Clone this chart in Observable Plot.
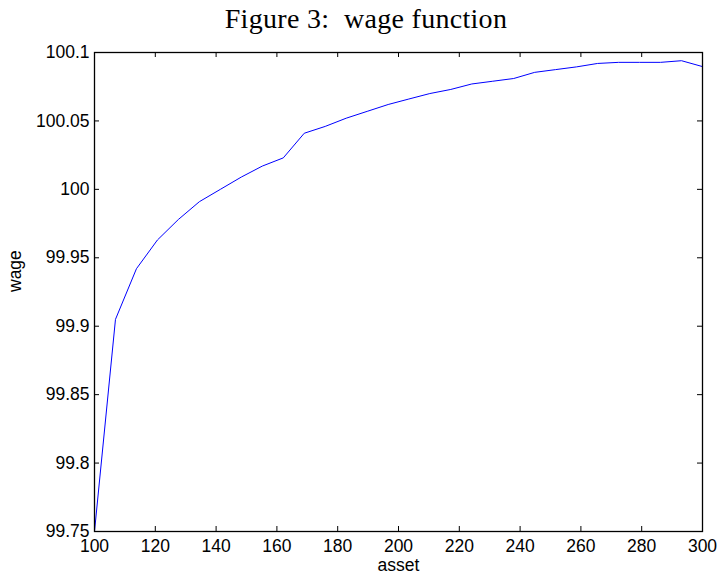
<!DOCTYPE html>
<html>
<head>
<meta charset="utf-8">
<script src="https://cdn.jsdelivr.net/npm/d3@7"></script>
<script src="https://cdn.jsdelivr.net/npm/@observablehq/plot@0.6"></script>
<style>
  html, body { margin: 0; padding: 0; background: #fff; }
  #wrap { width: 719px; height: 578px; position: relative; }
  #title {
    height: 38px; width: 719px; box-sizing: border-box; padding-left: 13px;
    text-align: center; font-family: "Liberation Serif", serif; font-size: 28px;
    line-height: 38px; color: #000; letter-spacing: 0.3px;
  }
  svg { display: block; }
</style>
</head>
<body>
<div id="wrap">
  <div id="title">Figure 3:&nbsp; wage function</div>
  <div id="chart"></div>
</div>
<script>
// Wage as a function of asset holdings
const assets = [100, 106.9, 113.8, 120.7, 127.6, 134.5, 141.4, 148.3, 155.2, 162.1,
                169.0, 175.9, 182.8, 189.7, 196.6, 203.4, 210.3, 217.2, 224.1, 231.0,
                237.9, 244.8, 251.7, 258.6, 265.5, 272.4, 279.3, 286.2, 293.1, 300];
const wages = [99.750, 99.905, 99.942, 99.963, 99.978, 99.991, 100.000, 100.009, 100.017, 100.023,
               100.041, 100.046, 100.052, 100.057, 100.062, 100.066, 100.070, 100.073, 100.077, 100.079,
               100.081, 100.0855, 100.0875, 100.0895, 100.092, 100.0928, 100.0928, 100.0928, 100.094, 100.0897];

const xTicks = [100, 120, 140, 160, 180, 200, 220, 240, 260, 280, 300];
const yTicks = [99.75, 99.8, 99.85, 99.9, 99.95, 100, 100.05, 100.1];
const yTickLabels = ["99.75", "99.8", "99.85", "99.9", "99.95", "100", "100.05", "100.1"];

const data = assets.map((a, i) => ({asset: a, wage: wages[i]}));

const W = 719, H = 540;
const mTop = 14, mBottom = 47, mLeft = 94, mRight = 17;
const innerH = H - mTop - mBottom, innerW = W - mLeft - mRight;
const tickLen = 5;

const chart = Plot.plot({
  width: W,
  height: H,
  marginTop: mTop,
  marginBottom: mBottom,
  marginLeft: mLeft,
  marginRight: mRight,
  style: {fontFamily: "'Liberation Sans', Arial, sans-serif", fontSize: "17.5px", color: "#000", background: "#fff"},
  x: {domain: [100, 300]},
  y: {domain: [99.75, 100.1]},
  marks: [
    Plot.axisX(xTicks, {anchor: "bottom", tickSize: 0, tickPadding: 8, label: null}),
    Plot.axisY(yTicks, {anchor: "left", tickSize: 0, tickPadding: 5, label: null,
                        tickFormat: d => yTickLabels[yTicks.indexOf(d)]}),
    // inward tick marks on all four sides
    Plot.tickX(xTicks, {x: d => d, insetTop: innerH - tickLen, stroke: "#000"}),
    Plot.tickX(xTicks, {x: d => d, insetBottom: innerH - tickLen, stroke: "#000"}),
    Plot.tickY(yTicks, {y: d => d, insetRight: innerW - tickLen, stroke: "#000"}),
    Plot.tickY(yTicks, {y: d => d, insetLeft: innerW - tickLen, stroke: "#000"}),
    Plot.line(data, {x: "asset", y: "wage", stroke: "#0000ff", strokeWidth: 1}),
    Plot.frame({stroke: "#000", strokeWidth: 1.3}),
    Plot.text(["asset"], {frameAnchor: "bottom", dy: 39, fontSize: 17.5, fill: "#000"}),
    Plot.text(["wage"], {frameAnchor: "left", dx: -79, rotate: -90, fontSize: 17.5, fill: "#000"})
  ]
});
document.getElementById("chart").appendChild(chart);
</script>
</body>
</html>
